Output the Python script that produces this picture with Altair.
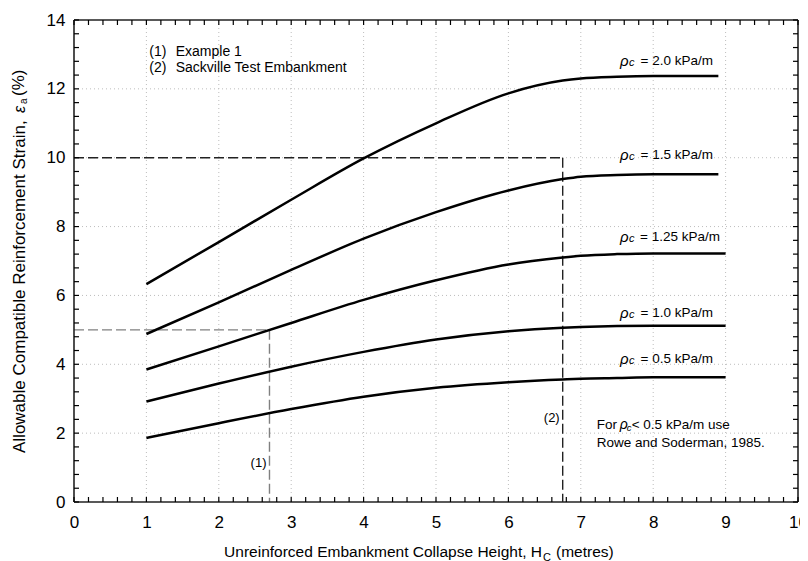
import altair as alt
import pandas as pd

W, H = 724, 482
FONT = "Liberation Sans"

# ---------------- data ----------------
curve_x_short = [1, 2, 3, 4, 5, 6, 6.75, 7, 7.5, 8, 8.9]
curve_x_long = [1, 2, 3, 4, 5, 6, 6.75, 7, 7.5, 8, 9]
rho_20 = [6.33, 7.55, 8.78, 9.98, 11.0, 11.87, 12.24, 12.30, 12.35, 12.37, 12.37]
rho_15 = [4.88, 5.80, 6.74, 7.65, 8.42, 9.05, 9.38, 9.45, 9.50, 9.52, 9.52]
rho_125 = [3.85, 4.52, 5.20, 5.87, 6.44, 6.90, 7.10, 7.15, 7.20, 7.22, 7.22]
rho_10 = [2.92, 3.44, 3.93, 4.36, 4.72, 4.96, 5.06, 5.08, 5.11, 5.12, 5.12]
rho_05 = [1.86, 2.29, 2.70, 3.06, 3.32, 3.48, 3.56, 3.58, 3.60, 3.62, 3.62]

label_texts = ["= 2.0 kPa/m", "= 1.5 kPa/m", "= 1.25 kPa/m", "= 1.0 kPa/m", "= 0.5 kPa/m"]
label_y = [12.81, 10.08, 7.69, 5.48, 4.14]
label_end_x = [8.826, 8.826, 8.923, 8.826, 8.826]
label_rho_x = [7.54, 7.54, 7.54, 7.54, 7.54]

# example guide lines (x, x2, y, y2)
ex2_seg = {"x": [0, 6.75], "x2": [6.75, 6.75], "y": [10, 10], "y2": [10, 0]}
ex1_seg = {"x": [0, 2.7], "x2": [2.7, 2.7], "y": [5, 5], "y2": [5, 0]}

x_ticks = [round(i * 0.2, 1) for i in range(51)]
y_ticks = [round(i * 0.4, 1) for i in range(36)]
x_labels = [0, 1, 2, 3, 4, 5, 6, 7, 8, 9, 10]
y_labels = [0, 2, 4, 6, 8, 10, 12, 14]
x_grid = [1, 2, 3, 4, 5, 6, 7, 8, 9]
y_grid = [2, 4, 6, 8, 10, 12]

legend_num = ["(1)", "(2)"]
legend_txt = ["Example 1", "Sackville Test Embankment"]
legend_y = [13.06, 12.62]

# ---------------- build ----------------
X_MIN, X_MAX, Y_MIN, Y_MAX = 0, 10, 0, 14
xs = alt.Scale(domain=[X_MIN, X_MAX], nice=False, zero=False)
ys = alt.Scale(domain=[Y_MIN, Y_MAX], nice=False, zero=False)

rows = []
for name, xv, yv in [("2.0", curve_x_short, rho_20), ("1.5", curve_x_short, rho_15),
                     ("1.25", curve_x_long, rho_125), ("1.0", curve_x_long, rho_10),
                     ("0.5", curve_x_long, rho_05)]:
    for a, b in zip(xv, yv):
        rows.append({"series": name, "x": a, "y": b})
curve_df = pd.DataFrame(rows)

lab_common = dict(ticks=False, domain=False, grid=False, title=None, labelFont=FONT,
                  labelColor="#000", labelFlush=False, labelOverlap=False, labelFontSize=17)
ax_bottom = alt.Axis(orient="bottom", values=x_labels, labelPadding=12, format="d", **lab_common)
ax_left = alt.Axis(orient="left", values=y_labels, labelPadding=9, format="d", **lab_common)


def X(field="x"):
    return alt.X(f"{field}:Q", scale=xs, axis=ax_bottom)


def Y(field="y"):
    return alt.Y(f"{field}:Q", scale=ys, axis=ax_left)


grid_style = dict(color="#bdbdbd", strokeDash=[1, 3], strokeWidth=1)
vgrid = alt.Chart(pd.DataFrame({"x": x_grid})).mark_rule(**grid_style).encode(
    x=X(), y=alt.value(0), y2=alt.value(H))
hgrid = alt.Chart(pd.DataFrame({"y": y_grid})).mark_rule(**grid_style).encode(
    y=Y(), x=alt.value(0), x2=alt.value(W))

# inward tick marks on all four sides (tick length 5 px expressed in data units)
TLX = 5 * (X_MAX - X_MIN) / W
TLY = 5 * (Y_MAX - Y_MIN) / H
tick_rows = []
for v in x_ticks:
    tick_rows.append({"x": v, "x2": v, "y": Y_MIN, "y2": Y_MIN + TLY})
    tick_rows.append({"x": v, "x2": v, "y": Y_MAX, "y2": Y_MAX - TLY})
for v in y_ticks:
    tick_rows.append({"x": X_MIN, "x2": X_MIN + TLX, "y": v, "y2": v})
    tick_rows.append({"x": X_MAX, "x2": X_MAX - TLX, "y": v, "y2": v})
ticks = alt.Chart(pd.DataFrame(tick_rows)).mark_rule(color="#000", strokeWidth=1.2).encode(
    x=X(), x2="x2:Q", y=Y(), y2="y2:Q")

# plot frame
frame_df = pd.DataFrame({"x": [X_MIN, X_MIN, X_MIN, X_MAX], "x2": [X_MAX, X_MAX, X_MIN, X_MAX],
                         "y": [Y_MIN, Y_MAX, Y_MIN, Y_MIN], "y2": [Y_MIN, Y_MAX, Y_MAX, Y_MAX]})
frame = alt.Chart(frame_df).mark_rule(color="#222", strokeWidth=1.6).encode(
    x=X(), x2="x2:Q", y=Y(), y2="y2:Q")


def seg(d, color):
    return alt.Chart(pd.DataFrame(d)).mark_rule(
        color=color, strokeDash=[10, 4], strokeWidth=1.4).encode(
        x=X(), x2="x2:Q", y=Y(), y2="y2:Q")


curves = alt.Chart(curve_df).mark_line(color="#000", strokeWidth=2.5, interpolate="monotone").encode(
    x=X(), y=Y(), detail="series:N")


def dtext(df, **mk):
    base = dict(font=FONT, color="#000", baseline="middle")
    base.update(mk)
    return alt.Chart(df).mark_text(**base).encode(x=X(), y=Y(), text="t:N")


def ptext(t, px, py, **mk):
    base = dict(font=FONT, color="#000")
    base.update(mk)
    return alt.Chart(pd.DataFrame({"t": [t]})).mark_text(**base).encode(
        x=alt.value(px), y=alt.value(py), text="t:N")


lab_main = dtext(pd.DataFrame({"x": label_end_x, "y": label_y, "t": label_texts}),
                 align="right", fontSize=13.5)
lab_rho = dtext(pd.DataFrame({"x": label_rho_x, "y": label_y, "t": ["ρ"] * 5}),
                align="left", fontSize=15, fontStyle="italic")
lab_c = dtext(pd.DataFrame({"x": label_rho_x, "y": label_y, "t": ["c"] * 5}),
              align="left", fontSize=11, fontStyle="italic", dx=9, dy=2)

leg_num = dtext(pd.DataFrame({"x": [1.04, 1.04], "y": legend_y, "t": legend_num}),
                align="left", fontSize=14)
leg_txt = dtext(pd.DataFrame({"x": [1.405, 1.405], "y": legend_y, "t": legend_txt}),
                align="left", fontSize=14)

ex_labels = dtext(pd.DataFrame({"x": [2.7, 6.75], "y": [1.12, 2.45], "t": ["(1)", "(2)"]}),
                  align="right", fontSize=13, dx=-3)

note_x = 7.22
note1a = dtext(pd.DataFrame({"x": [note_x], "y": [2.23], "t": ["For"]}), align="left", fontSize=13.5)
note1r = dtext(pd.DataFrame({"x": [note_x], "y": [2.23], "t": ["ρ"]}), align="left", fontSize=14,
               fontStyle="italic", dx=23)
note1c = dtext(pd.DataFrame({"x": [note_x], "y": [2.23], "t": ["c"]}), align="left", fontSize=9.5,
               fontStyle="italic", dx=30, dy=3)
note1b = dtext(pd.DataFrame({"x": [note_x], "y": [2.23], "t": ["< 0.5 kPa/m use"]}), align="left",
               fontSize=13.5, dx=35)
note2 = dtext(pd.DataFrame({"x": [note_x], "y": [1.71], "t": ["Rowe and Soderman, 1985."]}),
              align="left", fontSize=13.5)

# axis titles (outside the plot area)
xt_main = ptext("Unreinforced Embankment Collapse Height, H", 468, 537, align="right",
                baseline="alphabetic", fontSize=15.5)
xt_sub = ptext("C", 469, 541, align="left", baseline="alphabetic", fontSize=11)
xt_end = ptext("(metres)", 482, 537, align="left", baseline="alphabetic", fontSize=15.5)

yt_main = ptext("Allowable Compatible Reinforcement Strain,", -54, 433, align="left",
                baseline="middle", angle=270, fontSize=17)
yt_eps = ptext("ε", -54, 93, align="left", baseline="middle", angle=270, fontSize=16,
               fontStyle="italic")
yt_sub = ptext("a", -50, 84, align="left", baseline="middle", angle=270, fontSize=10)
yt_end = ptext("(%)", -55, 76, align="left", baseline="middle", angle=270, fontSize=17)

chart = alt.layer(
    vgrid, hgrid,
    seg(ex1_seg, "#808080"), seg(ex2_seg, "#222"),
    curves,
    lab_main, lab_rho, lab_c, leg_num, leg_txt, ex_labels,
    note1a, note1r, note1c, note1b, note2,
    xt_main, xt_sub, xt_end, yt_main, yt_eps, yt_sub, yt_end,
    frame, ticks,
).properties(
    width=W, height=H,
    padding={"left": 66, "top": 12, "right": 2, "bottom": 59},
    autosize=alt.AutoSizeParams(type="none"),
).configure(font=FONT).configure_view(stroke="transparent", strokeWidth=0)

chart.save("out.html", embed_options={"renderer": "svg", "actions": False})
